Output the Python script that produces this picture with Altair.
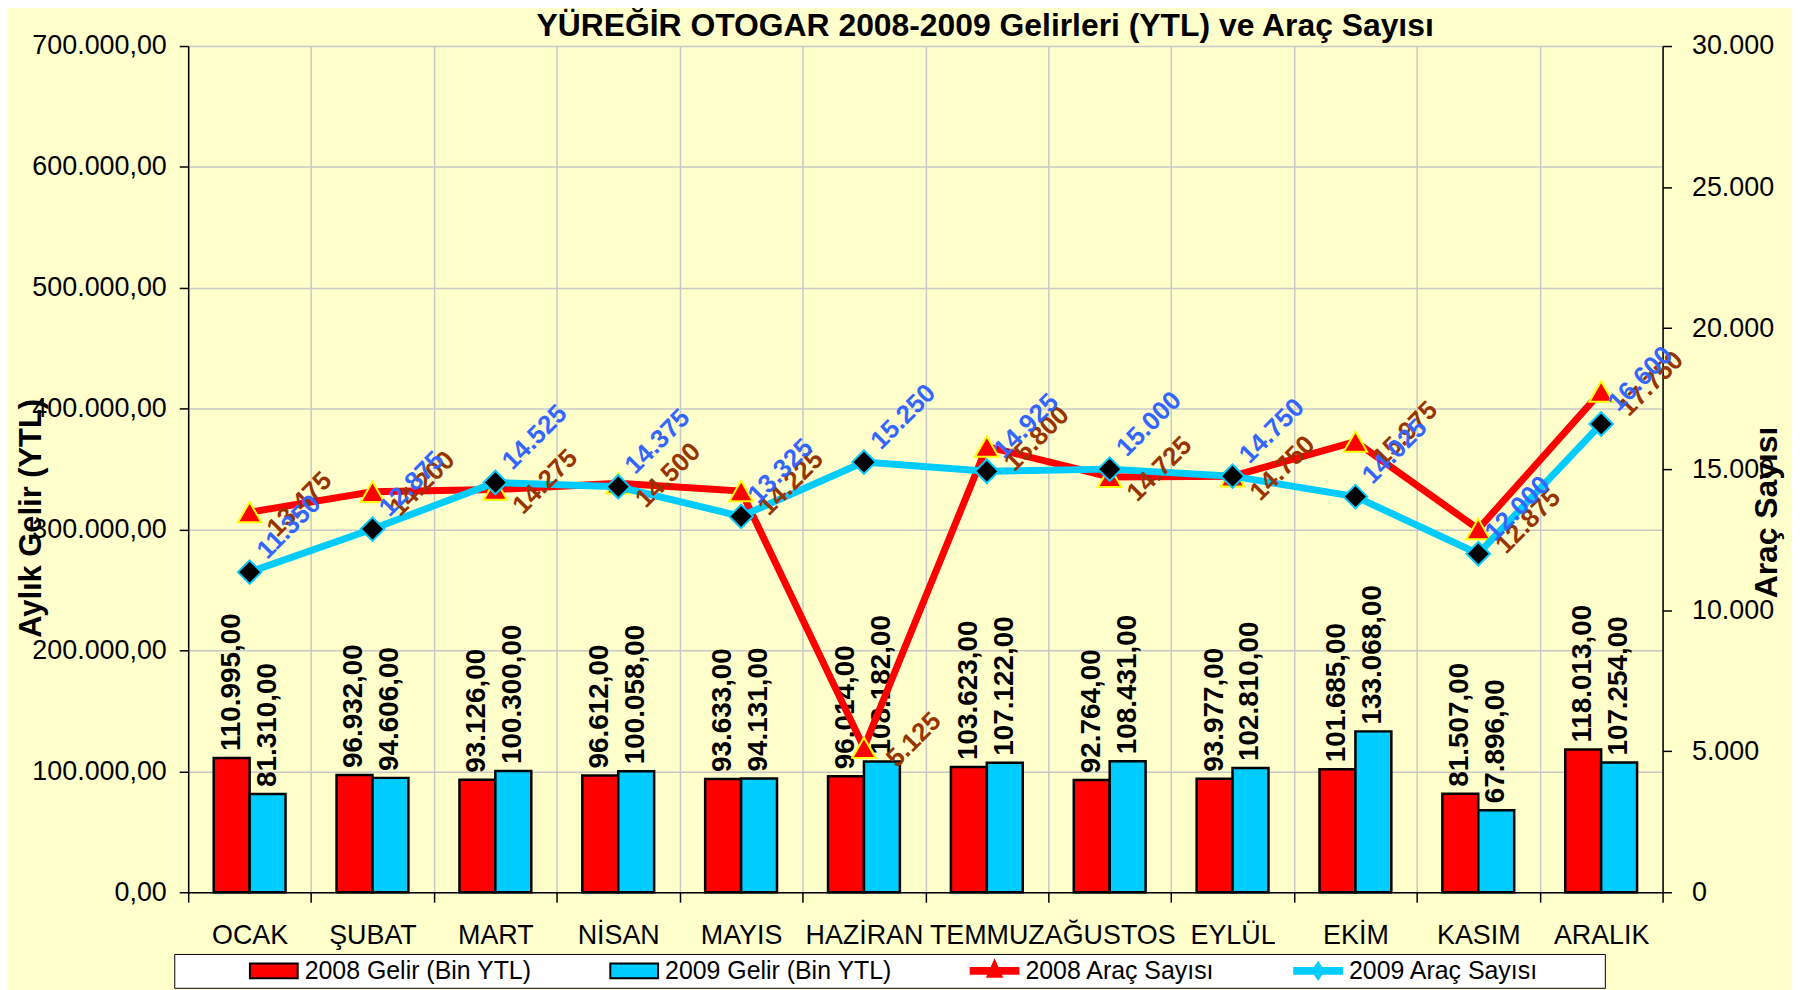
import altair as alt
import pandas as pd

# ---------------- data ----------------
months = ["OCAK", "ŞUBAT", "MART", "NİSAN", "MAYIS", "HAZİRAN",
          "TEMMUZ", "AĞUSTOS", "EYLÜL", "EKİM", "KASIM", "ARALIK"]
gelir_2008 = [110995, 96932, 93126, 96612, 93633, 96014,
              103623, 92764, 93977, 101685, 81507, 118013]
gelir_2009 = [81310, 94606, 100300, 100058, 94131, 108182,
              107122, 108431, 102810, 133068, 67896, 107254]
arac_2008 = [13475, 14200, 14275, 14500, 14225, 5125,
             15800, 14725, 14750, 15975, 12875, 17750]
arac_2009 = [11350, 12875, 14525, 14375, 13325, 15250,
             14925, 15000, 14750, 14025, 12000, 16600]
bar_series = ["2008", "2009"]
legend_names = ["2008 Gelir (Bin YTL)", "2009 Gelir (Bin YTL)",
                "2008 Araç Sayısı", "2009 Araç Sayısı"]
left_ticks = [0, 100000, 200000, 300000, 400000, 500000, 600000, 700000]
right_ticks = [0, 5000, 10000, 15000, 20000, 25000, 30000]
title_text = "YÜREĞİR OTOGAR 2008-2009 Gelirleri (YTL) ve Araç Sayısı"

# ---------------- style ----------------
FONT = "Liberation Sans"
RED = "#FF0000"
CYAN = "#00CCFF"
BROWN = "#993300"
BLUE = "#3366FF"
BG = "#FFFFCC"
GRID = "#C8C8C8"
W, H = 1481, 850
NBSP = "\u00a0"
ZWSP = "\u200b"

bars_df = pd.DataFrame({
    "ay": months * 2,
    "seri": [bar_series[0]] * len(months) + [bar_series[1]] * len(months),
    "gelir": gelir_2008 + gelir_2009,
})
a08 = pd.DataFrame({"ay": months, "arac": arac_2008})
a09 = pd.DataFrame({"ay": months, "arac": arac_2009})
leg_df = pd.DataFrame({"seri": legend_names})

x_enc = alt.X(
    "ay:N", sort=months, title=None,
    scale=alt.Scale(paddingInner=0, paddingOuter=0),
    axis=alt.Axis(labelAngle=0, labelFont=FONT, labelFontSize=27, labelColor="black",
                  labelPadding=20, labelOverlap=False, labelBound=False,
                  tickBand="extent", tickSize=10, tickColor="black", tickWidth=1.5,
                  domainColor="black", domainWidth=1.5,
                  grid=True, gridColor=GRID, gridWidth=1.5),
)

y_left = alt.Y(
    "gelir:Q", title="Aylık Gelir (YTL)",
    scale=alt.Scale(domain=[0, 700000], nice=False, zero=True),
    axis=alt.Axis(orient="left", values=left_ticks, format=",.2f",
                  labelFont=FONT, labelFontSize=27, labelColor="black", labelPadding=13,
                  tickSize=9, tickColor="black", tickWidth=1.5,
                  domainColor="black", domainWidth=1.5,
                  grid=True, gridColor=GRID, gridWidth=1.5,
                  titleFont=FONT, titleFontSize=31, titleFontWeight="bold", titleColor="black",
                  titleAngle=270, titleAlign="center", titleBaseline="middle",
                  titleX=-157, titleY=474),
)

y_right = alt.Y(
    "arac:Q", title="Araç Sayısı",
    scale=alt.Scale(domain=[0, 30000], nice=False, zero=True),
    axis=alt.Axis(orient="right", values=right_ticks, format=",.0f",
                  labelFont=FONT, labelFontSize=27, labelColor="black", labelPadding=20,
                  tickSize=9, tickColor="black", tickWidth=1.5,
                  domainColor="black", domainWidth=1.5, grid=False,
                  titleFont=FONT, titleFontSize=32, titleFontWeight="bold", titleColor="black",
                  titleAngle=270, titleAlign="center", titleBaseline="middle",
                  titleX=104, titleY=468),
)

x_off = alt.XOffset("seri:N", scale=alt.Scale(domain=bar_series, paddingOuter=0.71, paddingInner=0))

bars = alt.Chart(bars_df).mark_bar(stroke="black", strokeWidth=2.5).encode(
    x=x_enc, xOffset=x_off, y=y_left,
    color=alt.Color("seri:N", scale=alt.Scale(domain=bar_series, range=[RED, CYAN]), legend=None),
)
bar_text = alt.Chart(bars_df).mark_text(
    angle=270, align="left", baseline="middle", dx=7,
    font=FONT, fontSize=28, fontWeight="bold", color="black",
).encode(x=x_enc, xOffset=x_off, y=y_left, text=alt.Text("gelir:Q", format=",.2f"))

left_group = alt.layer(bars, bar_text)

line08 = alt.Chart(a08).mark_line(color=RED, strokeWidth=7).encode(x=x_enc, y=y_right)
pts08 = alt.Chart(a08).mark_point(shape="triangle-up", filled=True, fill=RED, stroke="#FFFF00",
                                  strokeWidth=2, size=560, opacity=1).encode(x=x_enc, y=y_right)
line09 = alt.Chart(a09).mark_line(color=CYAN, strokeWidth=7).encode(x=x_enc, y=y_right)
pts09 = alt.Chart(a09).mark_point(shape="diamond", filled=True, fill="black", stroke=CYAN,
                                  strokeWidth=2, size=560, opacity=1).encode(x=x_enc, y=y_right)
txt08 = alt.Chart(a08).mark_text(
    angle=315, align="center", baseline="middle", dx=41, dy=30,
    font=FONT, fontSize=26, fontWeight="bold", color=BROWN,
).encode(x=x_enc, y=y_right, text=alt.Text("arac:Q", format=",.0f"))
txt09 = alt.Chart(a09).mark_text(
    angle=315, align="center", baseline="middle", dx=60, dy=-4,
    font=FONT, fontSize=26, fontWeight="bold", color=BLUE,
).encode(x=x_enc, y=y_right, text=alt.Text("arac:Q", format=",.0f"))

last = legend_names[-1]
trail = NBSP * 9 + ZWSP
leg = alt.Legend(
    title=None, orient="none", legendX=-14, legendY=912, direction="horizontal",
    labelFont=FONT, labelFontSize=25, labelColor="black", labelLimit=600, labelOffset=30,
    labelExpr=f"datum.label == '{last}' ? datum.label + '{trail}' : datum.label",
    symbolSize=576, symbolStrokeWidth=2, symbolOpacity=1, symbolOffset=71,
    columnPadding=7, fillColor="white", strokeColor="black", padding=4, cornerRadius=0,
)
bar_path = "M-1,-0.62H3V0.62H-1Z"
line08_path = "M-1,-0.25H3V0.25H-1Z M1,-0.85L1.6,0.5H0.4Z"
line09_path = "M-1,-0.25H3V0.25H-1Z M1,-0.7L1.45,0L1,0.7L0.55,0Z"
legend_layer = alt.Chart(leg_df).mark_point(filled=True, opacity=0).encode(
    fill=alt.Fill("seri:N", scale=alt.Scale(domain=legend_names, range=[RED, CYAN, RED, CYAN]), legend=leg),
    stroke=alt.Stroke("seri:N", scale=alt.Scale(domain=legend_names, range=["black", "black", RED, CYAN]), legend=leg),
    shape=alt.Shape("seri:N", scale=alt.Scale(domain=legend_names, range=[bar_path, bar_path, line08_path, line09_path]), legend=leg),
)

right_group = alt.layer(line08, pts08, line09, pts09, txt08, txt09, legend_layer)

chart = alt.layer(left_group, right_group).resolve_scale(y="independent").properties(
    width=W, height=H,
    padding={"left": 181, "top": 36, "right": 130, "bottom": 96},
    autosize=alt.AutoSizeParams(type="none"),
    title=alt.TitleParams(text=title_text, font=FONT, fontSize=32, fontWeight="bold",
                          color="black", anchor="middle", dx=60, dy=19, offset=8),
).configure(
    background=BG,
    locale={"number": {"decimal": ",", "thousands": ".", "grouping": [3], "currency": ["", " TL"]}},
).configure_view(fill="white", stroke="transparent")

chart.save("out.html", embed_options={"renderer": "svg", "actions": False})
